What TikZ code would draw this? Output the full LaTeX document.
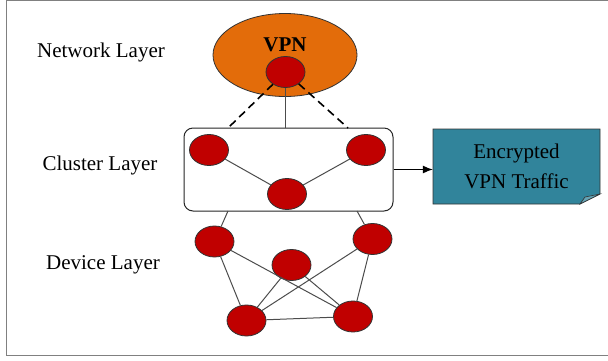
\documentclass[tikz,border=0pt]{standalone}
\usepackage{fontspec}
\setmainfont{Liberation Serif}
\usetikzlibrary{shapes.geometric,arrows.meta}
\definecolor{vpnorange}{HTML}{E36C0A}
\definecolor{nodered}{HTML}{C00000}
\definecolor{docteal}{HTML}{31849B}
\begin{document}
\begin{tikzpicture}[x=1pt, y=-1pt, >={Latex[length=10pt,width=8pt]},
  every node/.style={font=\fontsize{21}{30}\selectfont},
  dev/.style={ellipse, draw=black!80, fill=nodered, line width=0.8pt,
    minimum width=39pt, minimum height=31pt, inner sep=0pt},
  link/.style={draw=black!70, line width=1pt}]
  \useasboundingbox (0,0) rectangle (608,360);
  \draw[black!50, line width=1.4pt] (612,0.7) -- (6.5,0.7) -- (6.5,355.5) -- (612,355.5);

  % layer names
  \node (netlbl) at (101,52) {Network Layer};
  \node (clulbl) at (100,165) {Cluster Layer};
  \node (devlbl) at (103,265) {Device Layer};

  % network layer
  \node[ellipse, draw=black!80, fill=vpnorange, line width=0.8pt,
    minimum width=144pt, minimum height=83pt] (vpn) at (285,55) {};
  \node[font=\fontsize{21}{30}\selectfont\bfseries] (vpnlbl) at (285,45) {VPN};
  \node[dev] (t) at (285.5,72) {};

  % cluster layer
  \node[draw=black!85, fill=white, rounded corners=9pt, line width=1pt,
    minimum width=209pt, minimum height=83pt] (cbox) at (288.5,169.5) {};
  \node[dev] (c1) at (209,150) {};
  \node[dev] (c2) at (366,150) {};
  \node[dev] (c3) at (287,194) {};

  \coordinate (dl) at (228,128);
  \coordinate (dr) at (348,128);
  \draw[link] (t) -- (t |- cbox.north);
  \draw[link, black, line width=1.6pt, dash pattern=on 8pt off 5pt] (t) -- (dl);
  \draw[link, black, line width=1.6pt, dash pattern=on 8pt off 5pt] (t) -- (dr);
  \draw[link] (c1) -- (c3);
  \draw[link] (c2) -- (c3);

  % device layer
  \node[dev] (d1) at (214.5,241.5) {};
  \node[dev] (d2) at (372.5,239) {};
  \node[dev] (d3) at (291.5,265) {};
  \node[dev] (d4) at (246.5,320.5) {};
  \node[dev] (d5) at (353,316.5) {};

  \coordinate (bl) at (228,211);
  \coordinate (br) at (357,211);
  \draw[link] (bl) -- (d1);
  \draw[link] (br) -- (d2);
  \draw[link] (d1) -- (d4);
  \draw[link] (d1) -- (d5);
  \draw[link] (d2) -- (d4);
  \draw[link] (d2) -- (d5);
  \draw[link] (d3) -- (d4);
  \draw[link] (d3) -- (d5);
  \draw[link] (d4) -- (d5);

  % encrypted traffic note
  \coordinate (nw) at (433,129);
  \coordinate (ne) at (600,129);
  \coordinate (se) at (600,194);
  \coordinate (fold) at (580,204);
  \coordinate (sw) at (433,204);
  \filldraw[fill=docteal, draw=black!80, line width=0.8pt] (nw) -- (ne) -- (se) -- (fold) -- (sw) -- cycle;
  \filldraw[fill=docteal!75, draw=black!80, line width=0.6pt] (fold) -- (585,197) -- (se) -- cycle;
  \node[minimum width=167pt, align=center] (traffic) at (516.5,166.5) {Encrypted\\VPN Traffic};

  \draw[->, black, line width=1pt] (cbox.east) -- (cbox.east -| traffic.west);
\end{tikzpicture}
\end{document}
